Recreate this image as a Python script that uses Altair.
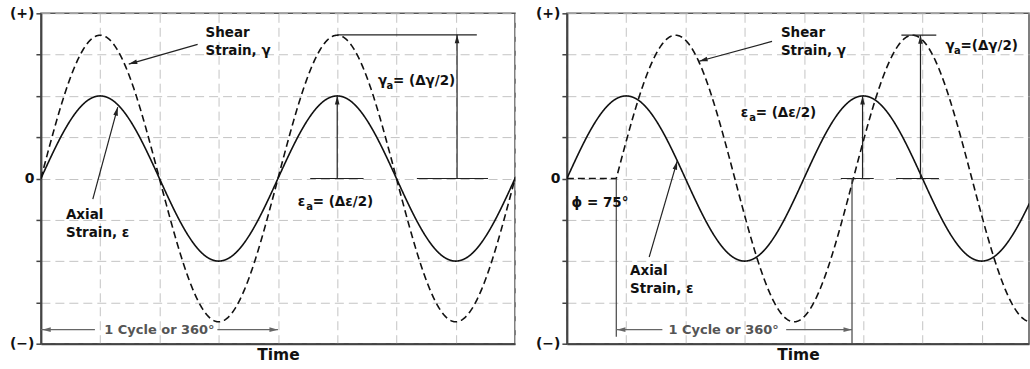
import altair as alt
import pandas as pd

# Panel layout (plot area only)
PANEL_WIDTHS = [475, 463]
PANEL_HEIGHT = 331
X_SPANS = [720, 701.8]  # degrees shown across each panel
X_GRID = [0, 90, 180, 270, 360, 450, 540, 630, 720]
Y_TICKS = [-4, -3, -2, -1, 0, 1, 2, 3, 4]

# Waveform parameters: axial strain and shear strain (out-of-phase in panel 2)
AXIAL_AMPLITUDE = [2.0, 2.0]
SHEAR_AMPLITUDE = [3.47, 3.47]
SHEAR_PHASE = [0, 75]

FONT = "DejaVu Sans"

# Left-aligned annotation labels
TXT_PANEL = [0, 0, 0, 0, 1, 1, 1, 1, 1]
TXT_X = [250, 250, 38, 38, 325, 325, 96, 96, 7]
TXT_Y = [3.52, 3.08, -0.88, -1.32, 3.52, 3.08, -2.24, -2.67, -0.59]
TXT_LABEL = ["Shear", "Strain, γ", "Axial", "Strain, ε",
             "Shear", "Strain, γ", "Axial", "Strain, ε", "ϕ = 75°"]

# Amplitude labels: symbol, subscript "a", then the remainder
AMP_PANEL = [0, 0, 1, 1]
AMP_X = [390, 512, 264, 575]
AMP_Y = [-0.57, 2.36, 1.59, 3.2]
AMP_SYMBOL = ["ε", "γ", "ε", "γ"]
AMP_REST = ["= (Δε/2)", " = (Δγ/2)", "= (Δε/2)", "=(Δγ/2)"]

# Cycle-length labels (centred on the dimension line)
CYC_PANEL = [0, 1]
CYC_X = [180, 238]
CYC_Y = [-3.66, -3.66]
CYC_LABEL = ["1 Cycle or 360°", "1 Cycle or 360°"]

# Leader and dimension lines
SEG_PANEL = [0, 0, 0, 0, 0, 0, 0, 0, 0,
             1, 1, 1, 1, 1, 1, 1, 1, 1, 1, 1]
SEG_X = [238, 78.8, 450, 409, 632, 450, 571, 0, 268,
         311.5, 125, 449, 416, 537, 508, 500, 75, 433, 75, 333]
SEG_Y = [3.25, -0.50, 0, 0, 0, 3.48, 0, -3.66, -3.66,
         3.32, -1.90, 0, 0, 0, 3.47, 0, 0, 0, -3.66, -3.66]
SEG_X2 = [133.4, 116.7, 450, 490, 632, 662, 679, 82, 360,
          200.8, 167.5, 449, 466, 537, 561, 565, 75, 433, 145, 433]
SEG_Y2 = [2.77, 1.73, 2, 0, 3.48, 3.48, 0, -3.66, -3.66,
          2.84, 0.42, 2, 0, 3.47, 3.47, 0, -3.83, -4, -3.66, -3.66]
SEG_COLOR = ["#222"] * 7 + ["#666"] * 2 + ["#222"] * 7 + ["#444", "#444", "#666", "#666"]

# Arrowheads
HEAD_PANEL = [0, 0, 0, 0, 0, 0, 1, 1, 1, 1, 1, 1]
HEAD_X = [133.4, 116.7, 450, 632, 2, 360, 200.8, 167.5, 449, 537, 76, 433]
HEAD_Y = [2.77, 1.73, 2, 3.48, -3.66, -3.66, 2.84, 0.42, 2, 3.47, -3.66, -3.66]
HEAD_ANGLE = [254, 15, 0, 0, 270, 90, 255, 16, 0, 0, 270, 90]
HEAD_COLOR = ["#222"] * 4 + ["#666"] * 2 + ["#222"] * 4 + ["#666"] * 2

ARROW_PATH = "M0,0L0.6,2.2L-0.6,2.2Z"

texts = pd.DataFrame({"panel": TXT_PANEL, "x": TXT_X, "y": TXT_Y, "label": TXT_LABEL})
amps = pd.DataFrame({"panel": AMP_PANEL, "x": AMP_X, "y": AMP_Y,
                     "symbol": AMP_SYMBOL, "sub": ["a"] * 4, "rest": AMP_REST})
cycles = pd.DataFrame({"panel": CYC_PANEL, "x": CYC_X, "y": CYC_Y, "label": CYC_LABEL})
segs = pd.DataFrame({"panel": SEG_PANEL, "x": SEG_X, "y": SEG_Y, "x2": SEG_X2,
                     "y2": SEG_Y2, "color": SEG_COLOR})
heads = pd.DataFrame({"panel": HEAD_PANEL, "x": HEAD_X, "y": HEAD_Y,
                      "angle": HEAD_ANGLE, "color": HEAD_COLOR})

Y_LABELS = "datum.value == 4 ? '(+)' : datum.value == 0 ? '0' : datum.value == -4 ? '(−)' : ''"


def make_panel(i):
    xs = alt.Scale(domain=[0, X_SPANS[i]], nice=False, zero=False)
    ys = alt.Scale(domain=[-4, 4], nice=False, zero=False)
    xa = alt.Axis(values=X_GRID, labels=False, ticks=False, title="Time",
                  grid=True, gridColor="#c4c4c4", gridDash=[9, 5], gridWidth=1,
                  domainColor="#444", domainWidth=2,
                  titleFont=FONT, titleFontSize=15.5, titleFontWeight="bold",
                  titleColor="#111", titlePadding=4)
    ya = alt.Axis(values=Y_TICKS, labelExpr=Y_LABELS, title=None, labelOverlap=False,
                  grid=True, gridColor="#c4c4c4", gridDash=[9, 5], gridWidth=1,
                  domainColor="#444", domainWidth=2, tickColor="#444", tickWidth=1.5,
                  tickSize=5, labelPadding=2, labelFont=FONT, labelFontSize=14,
                  labelFontWeight="bold", labelColor="#111")

    def pos(xf, yf):
        return dict(x=alt.X(xf, scale=xs, axis=xa), y=alt.Y(yf, scale=ys, axis=ya))

    wave = alt.Chart(alt.sequence(0, X_SPANS[i] + 1, 0.5, as_="deg")).transform_calculate(
        axial=f"{AXIAL_AMPLITUDE[i]} * sin(datum.deg * PI / 180)",
        shear=(f"datum.deg < {SHEAR_PHASE[i]} ? 0 : "
               f"{SHEAR_AMPLITUDE[i]} * sin((datum.deg - {SHEAR_PHASE[i]}) * PI / 180)"),
    )
    axial = wave.mark_line(color="#111", strokeWidth=1.6, clip=True).encode(
        **pos("deg:Q", "axial:Q"))
    shear = wave.mark_line(color="#111", strokeWidth=1.6, strokeDash=[7, 4],
                           clip=True).encode(**pos("deg:Q", "shear:Q"))

    lines = alt.Chart(segs[segs.panel == i]).mark_rule(strokeWidth=1.2).encode(
        x2="x2:Q", y2="y2:Q", color=alt.Color("color:N", scale=None), **pos("x:Q", "y:Q"))
    tips = alt.Chart(heads[heads.panel == i]).mark_point(
        shape=ARROW_PATH, filled=True, size=60, opacity=1, strokeWidth=0).encode(
        angle=alt.Angle("angle:Q", scale=None),
        color=alt.Color("color:N", scale=None), **pos("x:Q", "y:Q"))

    text_style = dict(baseline="middle", font=FONT, fontWeight="bold", color="#111")
    notes = alt.Chart(texts[texts.panel == i]).mark_text(
        align="left", fontSize=13.5, **text_style).encode(text="label:N", **pos("x:Q", "y:Q"))

    amp_base = alt.Chart(amps[amps.panel == i])
    amp_sym = amp_base.mark_text(align="left", fontSize=13.5, **text_style).encode(
        text="symbol:N", **pos("x:Q", "y:Q"))
    amp_sub = amp_base.mark_text(align="left", fontSize=10, dx=8.5, dy=5,
                                 **text_style).encode(text="sub:N", **pos("x:Q", "y:Q"))
    amp_rest = amp_base.mark_text(align="left", fontSize=13.5, dx=15, **text_style).encode(
        text="rest:N", **pos("x:Q", "y:Q"))

    cyc = alt.Chart(cycles[cycles.panel == i]).mark_text(
        align="center", baseline="middle", font=FONT, fontSize=13, fontWeight="bold",
        color="#555").encode(text="label:N", **pos("x:Q", "y:Q"))

    return alt.layer(axial, shear, lines, tips, notes, amp_sym, amp_sub, amp_rest,
                     cyc).properties(width=PANEL_WIDTHS[i], height=PANEL_HEIGHT)


chart = alt.hconcat(make_panel(0), make_panel(1), spacing=52, bounds="flush").properties(
    padding={"left": 8, "top": 5, "right": 0, "bottom": 0}
).configure_view(stroke="#555", strokeWidth=1.5)

chart.save("out.html", embed_options={"renderer": "svg", "actions": False})
